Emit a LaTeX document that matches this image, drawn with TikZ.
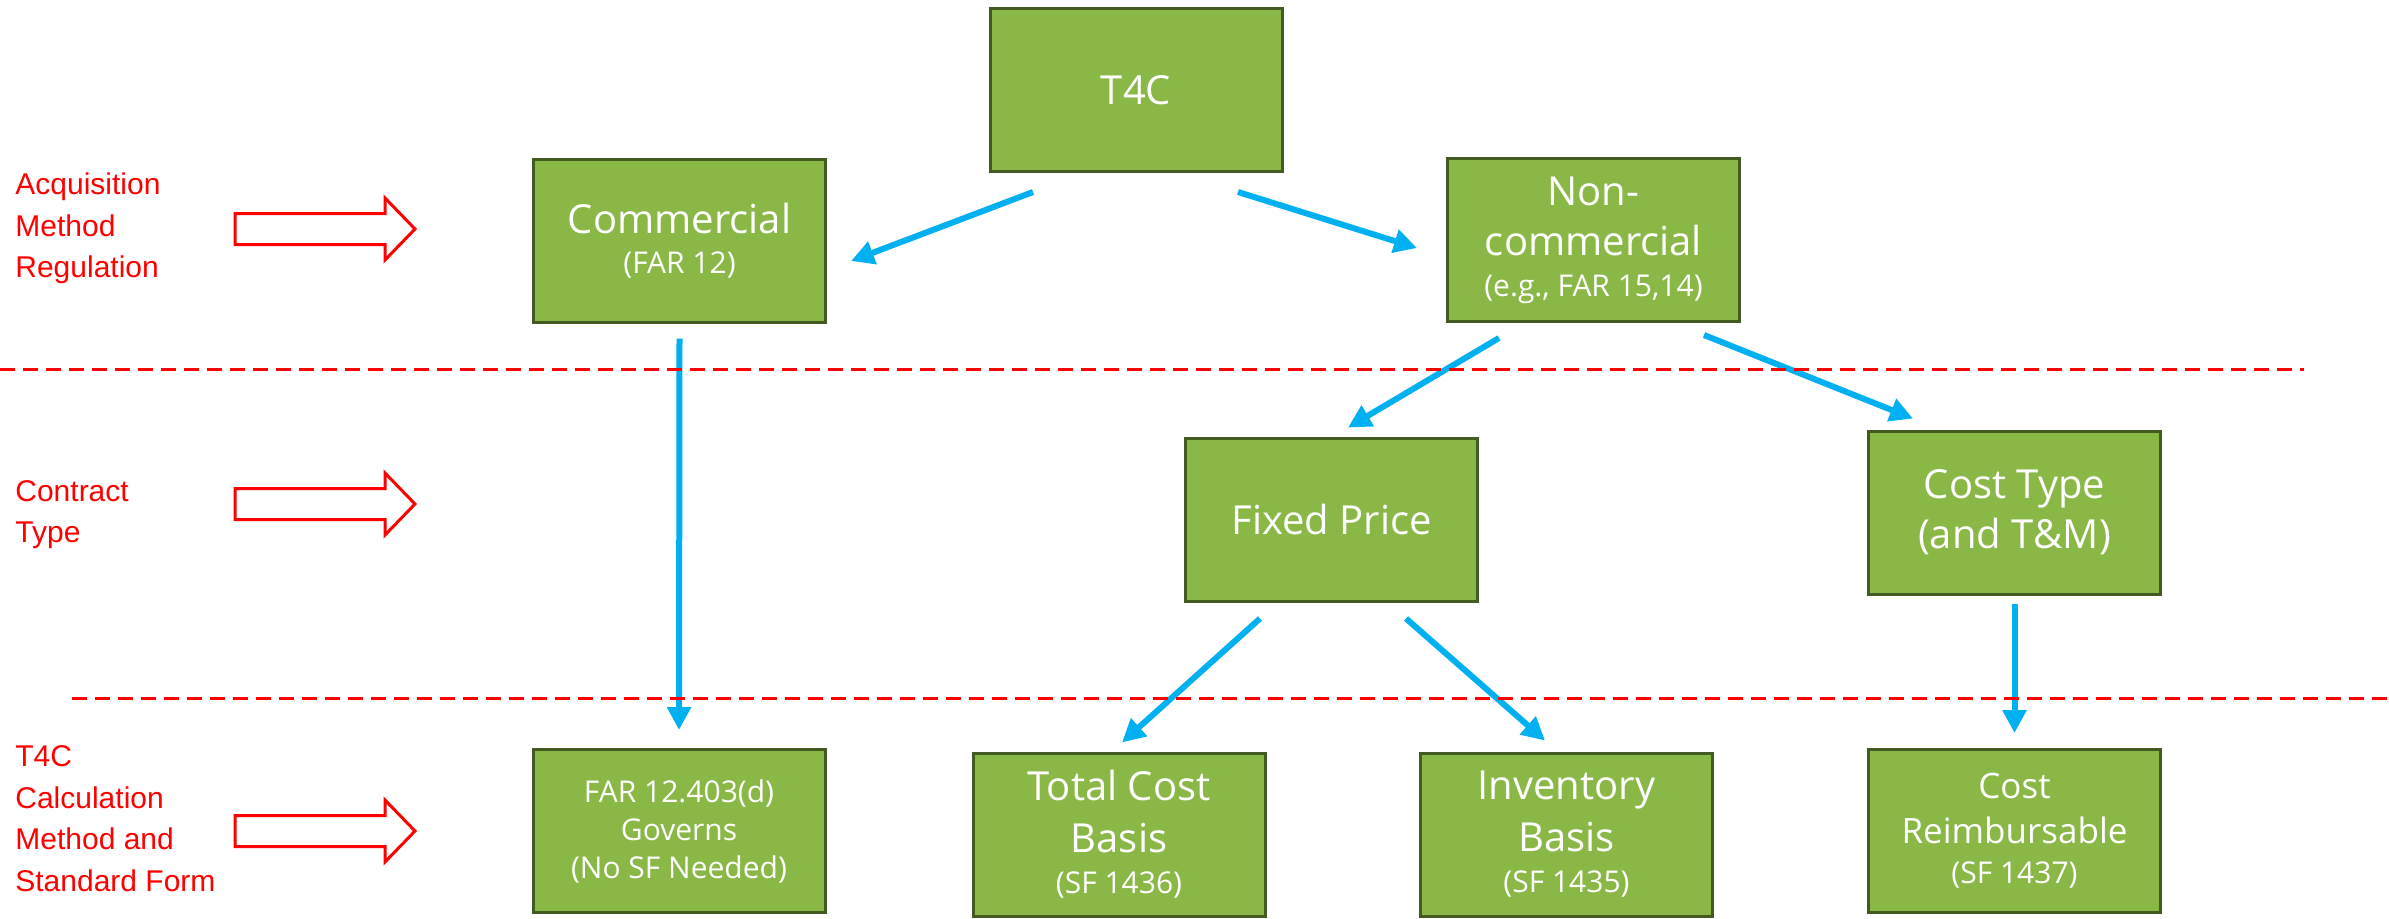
\documentclass[tikz,border=0pt]{standalone}
\usepackage{fontspec}
\setmainfont{Open Sans}
\newfontfamily\labelfont{Liberation Sans}
\usetikzlibrary{arrows.meta}
\definecolor{boxgreen}{HTML}{8AB847}
\definecolor{boxline}{HTML}{435A22}
\definecolor{linkblue}{HTML}{00B0F0}
\newcommand{\bigsz}{\fontsize{20}{25}\selectfont}
\newcommand{\midsz}{\fontsize{17.5}{22.5}\selectfont}
\newcommand{\subsz}{\fontsize{15}{19}\selectfont}
\newcommand{\lblsz}{\labelfont\fontsize{15}{20.75}\selectfont}
\begin{document}
\begin{tikzpicture}[x=0.5pt,y=-0.5pt,>={Triangle[length=11.5pt,width=11.5pt]},
	box/.style={draw=boxline,fill=boxgreen,line width=1.5pt,minimum width=146pt,minimum height=81.5pt,inner sep=0pt,align=center,text=white,font=\bigsz},
	lbl/.style={anchor=north west,inner sep=0pt,align=left,text=red,font=\lblsz},
	link/.style={->,linkblue,line width=3pt},
	sep/.style={red,line width=1.5pt,dash pattern=on 7.5pt off 4pt},
	blk/.style={draw=red,fill=white,line width=1.5pt}]
			\useasboundingbox (0,0) rectangle (2389,918);
			% row labels
			\node[lbl] (lblacq) at (15,172.5) {Acquisition\\Method\\Regulation};
			\node[lbl] (lbltype) at (15,480) {Contract\\Type};
			\node[lbl] (lblcalc) at (15,745.5) {T4C\\Calculation\\Method and\\Standard Form};
			\draw[blk] (235,213.5) -- ++(150,0) -- ++(0,-15.5) -- ++(30,31) -- ++(-30,31) -- ++(0,-15.5) -- ++(-150,0) -- cycle;
			\draw[blk] (235,488.5) -- ++(150,0) -- ++(0,-15.5) -- ++(30,31) -- ++(-30,31) -- ++(0,-15.5) -- ++(-150,0) -- cycle;
			\draw[blk] (235,815.5) -- ++(150,0) -- ++(0,-15.5) -- ++(30,31) -- ++(-30,31) -- ++(0,-15.5) -- ++(-150,0) -- cycle;
			% boxes
			\node[box] (t4c) at (1136,90) {T4C};
			\node[box] (comm) at (679.5,240.5) {Commercial\\[-5pt]{\subsz (FAR 12)}};
			\node[box] (noncomm) at (1593.5,240) {Non-\\commercial\\[-4.5pt]{\subsz (e.g., FAR 15,14)}};
			\node[box] (fixed) at (1331.5,519.5) {Fixed Price};
			\node[box] (cost) at (2014.5,512.5) {Cost Type\\(and T\&M)};
			\node[box,font=\subsz] (far) at (679,831) {FAR 12.403(d)\\Governs\\(No SF Needed)};
			\node[box] (total) at (1119,834.5) {Total Cost\\[1pt]Basis\\[-4.5pt]{\subsz (SF 1436)}};
			\node[box] (inv) at (1566.5,834.5) {Inventory\\[1pt]Basis\\[-4.5pt]{\subsz (SF 1435)}};
			\node[box,font=\midsz] (reimb) at (2014.5,831) {Cost\\Reimbursable\\[-2.5pt]{\subsz (SF 1437)}};
			% connectors
			\draw[link] ([shift={(-103,19)}]t4c.south) -- ([shift={(24,20.5)}]comm.east);
			\draw[link] ([shift={(102,19)}]t4c.south) -- ([shift={(-29,8)}]noncomm.west);
			\draw[link] ([shift={(0,15)}]comm.south) -- ([shift={(0,-18)}]far.north);
			\draw[link] ([shift={(-94.5,15)}]noncomm.south) -- ([shift={(16.5,-9)}]fixed.north);
			\draw[link] ([shift={(110.5,12)}]noncomm.south) -- ([shift={(-101.5,-11)}]cost.north);
			\draw[link] ([shift={(-71.5,16)}]fixed.south) -- ([shift={(3,-9)}]total.north);
			\draw[link] ([shift={(74.5,16)}]fixed.south) -- ([shift={(-21.5,-11)}]inv.north);
			\draw[link] ([shift={(0,8)}]cost.south) -- ([shift={(0,-15)}]reimb.north);
			% separators
			\draw[sep] (0,369) -- (2304,369);
			\draw[sep] (72,698) -- (2389,698);
\end{tikzpicture}
\end{document}
